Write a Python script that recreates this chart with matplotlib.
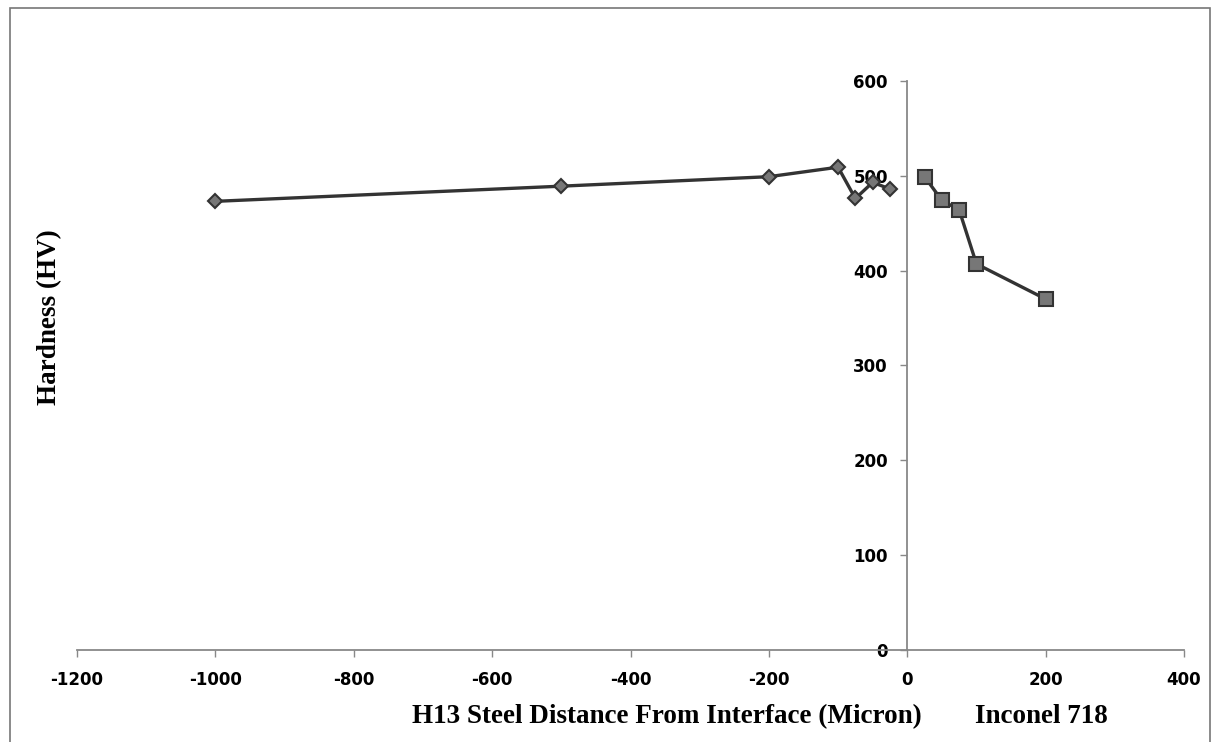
import numpy as np
import matplotlib.pyplot as plt
from matplotlib.patches import Rectangle

# H13 steel side (negative distances)
h13_x = [-1000, -500, -200, -100, -75, -50, -25]
h13_hv = [473, 489, 499, 509, 476, 493, 486]

# Inconel 718 side (positive distances)
inc_x = [25, 50, 75, 100, 200]
inc_hv = [499, 474, 464, 407, 370]

xticks = [-1200, -1000, -800, -600, -400, -200, 0, 200, 400]
yticks = [0, 100, 200, 300, 400, 500, 600]

plt.rcParams['axes.unicode_minus'] = False


def main():
    fig = plt.figure(figsize=(12.19, 7.42), dpi=100)
    ax = fig.add_axes([0.0632, 0.124, 0.9081, 0.767])

    ax.plot(h13_x, h13_hv, color='#333333', lw=2.4, marker='D', ms=7,
            mfc='#777777', mec='#333333', mew=1.5)
    ax.plot(inc_x, inc_hv, color='#333333', lw=2.4, marker='s', ms=10.5,
            mfc='#777777', mec='#333333', mew=1.5)

    ax.set_xlim(-1200, 400)
    ax.set_ylim(0, 600)
    ax.set_xticks(xticks)
    ax.set_yticks(yticks)

    ax.spines['left'].set_position(('data', 0))
    ax.spines['bottom'].set_position(('data', 0))
    ax.spines['top'].set_visible(False)
    ax.spines['right'].set_visible(False)
    for s in ['left', 'bottom']:
        ax.spines[s].set_color('#888888')
        ax.spines[s].set_linewidth(1.3)

    ax.tick_params(axis='both', direction='out', length=5, width=1,
                   color='#888888', labelsize=12)
    ax.tick_params(axis='x', pad=10)
    ax.tick_params(axis='y', pad=9)
    for lab in ax.get_xticklabels() + ax.get_yticklabels():
        lab.set_fontweight('bold')
        lab.set_family('DejaVu Sans')

    fig.text(0.041, 0.573, 'Hardness (HV)', rotation=90, ha='center', va='center',
             fontsize=19.5, fontweight='bold', family='Liberation Serif')
    fig.text(667 / 1219, 0.034, 'H13 Steel Distance From Interface (Micron)', ha='center',
             va='center', fontsize=19.5, fontweight='bold', family='Liberation Serif')
    fig.text(1041 / 1219, 0.034, 'Inconel 718', ha='center', va='center',
             fontsize=19.5, fontweight='bold', family='Liberation Serif')

    # frame around the whole picture
    fig.patches.append(Rectangle((10 / 1219, -0.05), 1200 / 1219, 1.05 - 8 / 742,
                                 transform=fig.transFigure, fill=False,
                                 ec='#777777', lw=1.2))

    fig.savefig('out.png', dpi=100)


if __name__ == '__main__':
    main()
